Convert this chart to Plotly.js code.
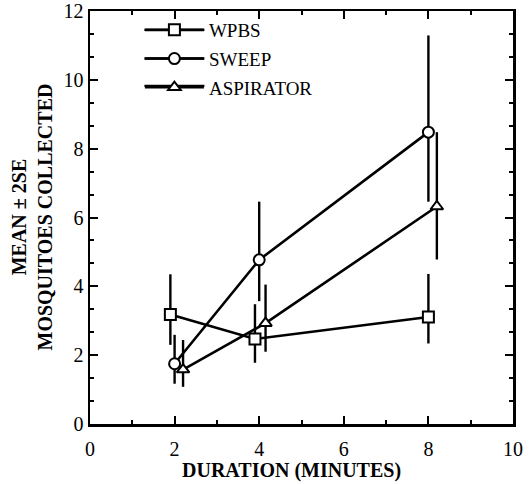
<!DOCTYPE html>
<html>
<head>
<meta charset="utf-8">
<script src="https://cdn.plot.ly/plotly-3.0.1.min.js"></script>
<style>html,body{margin:0;padding:0;background:#fff;}#chart{width:531px;height:484px;}</style>
</head>
<body>
<div id="chart"></div>
<script>
// Data (duration in minutes, mean and +/- 2SE limits)
const wpbsX = [1.9, 3.9, 8.0];
const wpbsY = [3.18, 2.47, 3.11];
const wpbsUp = [4.35, 3.48, 4.36];
const wpbsLo = [2.30, 1.78, 2.34];

const sweepX = [2.0, 4.0, 8.0];
const sweepY = [1.75, 4.77, 8.48];
const sweepUp = [2.59, 6.46, 11.29];
const sweepLo = [1.17, 3.57, 6.46];

const aspX = [2.2, 4.15, 8.2];
const aspY = [1.58, 2.93, 6.32];
const aspUp = [2.44, 4.05, 8.48];
const aspLo = [1.08, 2.10, 4.78];

const seriesNames = ['WPBS', 'SWEEP', 'ASPIRATOR'];
const xTickVals = [0, 2, 4, 6, 8, 10];
const yTickVals = [0, 2, 4, 6, 8, 10, 12];

const FONT = 'Liberation Serif, Times New Roman, serif';

function mk(name, x, y, up, lo, symbol, group) {
  return {
    type: 'scatter', mode: 'lines+markers', name: name, legendgroup: group,
    x: x, y: y,
    line: {color: '#000', width: 2.6},
    marker: {symbol: symbol, size: 11, color: '#fff', line: {color: '#000', width: 2}},
    error_y: {
      type: 'data', symmetric: false,
      array: up.map((v, i) => v - y[i]),
      arrayminus: lo.map((v, i) => y[i] - v),
      color: '#000', thickness: 2.4, width: 0
    }
  };
}

const traces = [
  mk(seriesNames[0], wpbsX, wpbsY, wpbsUp, wpbsLo, 'square', 'g1'),
  mk(seriesNames[1], sweepX, sweepY, sweepUp, sweepLo, 'circle', 'g2'),
  mk(seriesNames[2], aspX, aspY, aspUp, aspLo, 'triangle-up', 'g3')
];

const axisCommon = {
  showline: true, linecolor: '#000', linewidth: 2.5, mirror: 'allticks',
  ticks: 'inside', ticklen: 8, tickwidth: 2, tickcolor: '#000',
  showgrid: false, zeroline: false, ticklabeloverflow: 'allow',
  tickfont: {family: FONT, size: 20, color: '#000'}
};

const layout = {
  width: 531, height: 484,
  margin: {l: 90, r: 18, t: 11, b: 60},
  paper_bgcolor: '#fff', plot_bgcolor: '#fff',
  showlegend: true,
  legend: {
    x: 0.118, y: 1.0, xanchor: 'left', yanchor: 'top',
    font: {family: FONT, size: 19, color: '#000'},
    bgcolor: 'rgba(0,0,0,0)', borderwidth: 0,
    tracegroupgap: 1, itemwidth: 59
  },
  xaxis: Object.assign({}, axisCommon, {
    range: [0, 10], tickmode: 'array', tickvals: xTickVals, ticktext: xTickVals.map(String),
    minor: {dtick: 1, ticklen: 4, tickwidth: 2, tickcolor: '#000', ticks: 'inside', showgrid: false},
    ticklabelstandoff: 5
  }),
  yaxis: Object.assign({}, axisCommon, {
    range: [0, 12], tickmode: 'array', tickvals: yTickVals, ticktext: yTickVals.map(String),
    minor: {dtick: 2/3, tick0: 0, ticklen: 4, tickwidth: 2, tickcolor: '#000', ticks: 'inside', showgrid: false},
    ticklabelstandoff: 0
  }),
  annotations: [
    {text: '<b>DURATION (MINUTES)</b>', xref: 'paper', yref: 'paper', x: 0.476, y: 0, yshift: -46,
     xanchor: 'center', yanchor: 'middle', showarrow: false,
     font: {family: FONT, size: 20, color: '#000'}},
    {text: '<b>MEAN \u00b1 2SE</b><br><b>MOSQUITOES COLLECTED</b>', xref: 'paper', yref: 'paper',
     x: 0, xshift: -59, y: 0.5, xanchor: 'center', yanchor: 'middle', textangle: -90, showarrow: false,
     font: {family: FONT, size: 20, color: '#000'}}
  ]
};

const gd = document.getElementById('chart');
Plotly.newPlot(gd, traces, layout, {staticPlot: true, displayModeBar: false}).then(function () {
  // Lengthen the legend sample lines (drawn behind the legend) around each legend marker
  const sz = gd._fullLayout._size;
  const gdRect = gd.getBoundingClientRect();
  const shapes = [];
  gd.querySelectorAll('.legend .traces').forEach(function (tr) {
    const pt = tr.querySelector('.legendpoints path.scatterpts') || tr.querySelector('.legendpoints path');
    if (!pt) return;
    const r = pt.getBoundingClientRect();
    const cx = r.left + r.width / 2 - gdRect.left;
    const cy = r.top + r.height / 2 - gdRect.top;
    const half = 30;
    shapes.push({
      type: 'line', xref: 'paper', yref: 'paper', layer: 'below',
      x0: (cx - half - sz.l) / sz.w, x1: (cx + half - sz.l) / sz.w,
      y0: 1 - (cy - sz.t) / sz.h, y1: 1 - (cy - sz.t) / sz.h,
      line: {color: '#000', width: 2.4}
    });
  });
  return Plotly.relayout(gd, {shapes: shapes});
});
</script>
</body>
</html>
